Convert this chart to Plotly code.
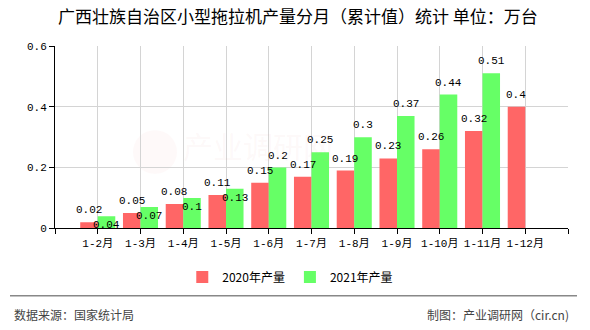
import plotly.graph_objects as go

# 累计产量（万台）
months = ["1-2月", "1-3月", "1-4月", "1-5月", "1-6月", "1-7月",
          "1-8月", "1-9月", "1-10月", "1-11月", "1-12月"]
output_2020 = [0.02, 0.05, 0.08, 0.11, 0.15, 0.17, 0.19, 0.23, 0.26, 0.32, 0.4]
output_2021 = [0.04, 0.07, 0.1, 0.13, 0.2, 0.25, 0.3, 0.37, 0.44, 0.51, None]
y_ticks = [0, 0.2, 0.4, 0.6]

RED = "#ff6666"
GREEN = "#66ff66"
MONO = "Liberation Mono, Noto Sans CJK SC, monospace"
CJK = "Noto Sans CJK SC, sans-serif"

W, H = 590, 330
L, R, T, B = 55, 22, 46, 100
PW, PH = W - L - R, H - T - B
BAR_GAP = 0.18
BAR_W = (1 - BAR_GAP) / 2


def px_x(px):
    return (px - L) / PW


def px_y(py):
    return (H - B - py) / PH


xs = list(range(len(months)))

fig = go.Figure()
fig.add_bar(x=xs, y=output_2020, name="2020年产量", marker_color=RED,
            marker_line_width=0)
fig.add_bar(x=xs, y=output_2021, name="2021年产量", marker_color=GREEN,
            marker_line_width=0)

annotations = []
for i, (a, b) in enumerate(zip(output_2020, output_2021)):
    if a is not None:
        annotations.append(dict(x=i - BAR_W / 2, y=a, text=f"{a:g}",
                                showarrow=False, yanchor="bottom", yshift=4,
                                font=dict(family=MONO, size=11, color="#000")))
    if b is not None:
        # 与左侧标签过近时，数值写在柱顶下方
        crowded = a is not None and (b - a) < 0.04
        annotations.append(dict(x=i + BAR_W / 2, y=b, text=f"{b:g}",
                                showarrow=False,
                                yanchor="top" if crowded else "bottom",
                                yshift=-1 if crowded else 4,
                                font=dict(family=MONO, size=11, color="#000")))

# 水印
annotations.append(dict(xref="paper", yref="paper", x=px_x(258), y=px_y(146),
                        text="产业调研网", showarrow=False,
                        font=dict(family=CJK, size=30,
                                  color="rgba(235,160,160,0.08)")))

# 页脚
annotations.append(dict(xref="paper", yref="paper", x=px_x(12), y=px_y(317),
                        xanchor="left", yanchor="middle", showarrow=False,
                        text="数据来源：国家统计局",
                        font=dict(family=CJK, size=12, color="#444")))
annotations.append(dict(xref="paper", yref="paper", x=px_x(571), y=px_y(317),
                        xanchor="right", yanchor="middle", showarrow=False,
                        text="制图：产业调研网（cir.cn)",
                        font=dict(family=CJK, size=12, color="#444")))

shapes = [
    dict(type="line", xref="paper", yref="paper",
         x0=px_x(10), x1=px_x(577), y0=px_y(298), y1=px_y(298),
         line=dict(color="#888", width=1.5)),
    dict(type="circle", xref="paper", yref="paper", layer="below",
         x0=px_x(133), x1=px_x(177), y0=px_y(131), y1=px_y(175),
         line=dict(width=0), fillcolor="rgba(240,170,170,0.07)"),
]

fig.update_layout(
    width=W, height=H,
    margin=dict(l=L, r=R, t=T, b=B, pad=0),
    paper_bgcolor="white", plot_bgcolor="white",
    barmode="group", bargap=BAR_GAP, bargroupgap=0,
    title=dict(text="广西壮族自治区小型拖拉机产量分月（累计值）统计 单位：万台",
               x=0.505, xanchor="center", y=1 - 17 / H, yanchor="middle",
               font=dict(family=CJK, size=17, color="#000")),
    legend=dict(orientation="h", xref="container", yref="container",
                x=0.492, xanchor="center", y=1 - 277 / H, yanchor="middle",
                font=dict(family=CJK, size=12, color="#000"),
                itemwidth=30, bgcolor="rgba(0,0,0,0)"),
    annotations=annotations,
    shapes=shapes,
    xaxis=dict(range=[-1, len(months)], tickmode="array",
               tickvals=list(range(-1, len(months) + 1)),
               ticktext=[""] + months + [""],
               showgrid=True, gridcolor="#d4d4d4", gridwidth=1,
               showline=True, linecolor="#000", linewidth=1,
               ticks="outside", ticklen=5, tickcolor="#000",
               zeroline=False, fixedrange=True,
               tickfont=dict(family=MONO, size=11, color="#000")),
    yaxis=dict(range=[0, 0.6], tickmode="array", tickvals=y_ticks,
               ticktext=[f"{v:g}" for v in y_ticks],
               showgrid=True, gridcolor="#d4d4d4", gridwidth=1,
               showline=True, linecolor="#000", linewidth=1,
               ticks="outside", ticklen=5, tickcolor="#000",
               zeroline=False, fixedrange=True,
               tickfont=dict(family=MONO, size=11, color="#000")),
)

fig.write_html("out.html", config={"displayModeBar": False})
